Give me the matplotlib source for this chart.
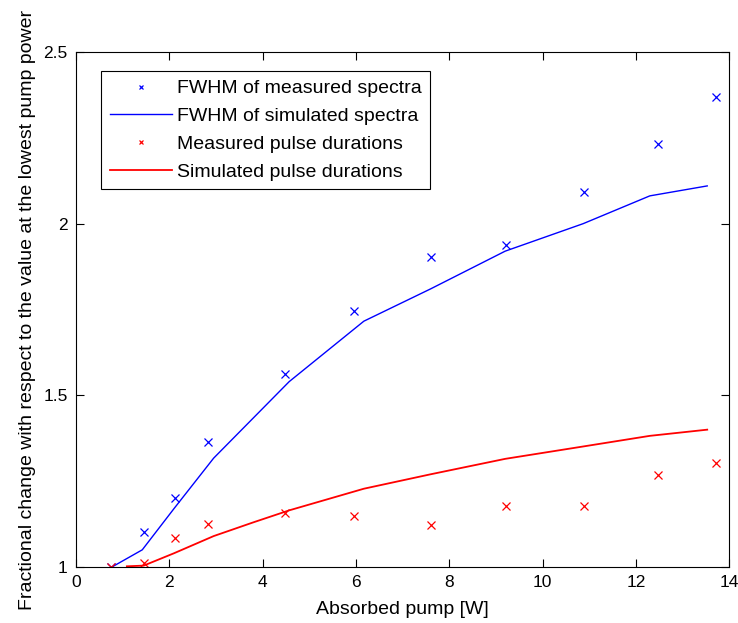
import matplotlib
matplotlib.use("Agg")
import matplotlib.pyplot as plt

plt.rcParams['font.family'] = ['Liberation Sans', 'DejaVu Sans']

# measured data
x_meas = [0.75, 1.45, 2.12, 2.83, 4.47, 5.96, 7.6, 9.22, 10.88, 12.47, 13.72]
fwhm_meas = [1.0, 1.101, 1.2, 1.363, 1.561, 1.745, 1.903, 1.937, 2.091, 2.232, 2.37]
pulse_meas = [1.0, 1.012, 1.083, 1.126, 1.157, 1.149, 1.122, 1.179, 1.179, 1.268, 1.302]

# simulated data
x_sim = [0.77, 1.42, 2.1, 2.95, 3.8, 4.57, 6.17, 7.6, 9.2, 10.87, 12.3, 13.53]
fwhm_sim = [1.0, 1.05, 1.17, 1.317, 1.434, 1.54, 1.716, 1.81, 1.92, 2.0, 2.081, 2.11]
x_sim_p = [1.09, 1.45, 2.1, 2.95, 3.8, 4.57, 6.17, 7.6, 9.2, 10.87, 12.3, 13.53]
pulse_sim = [1.002, 1.004, 1.04, 1.09, 1.13, 1.165, 1.228, 1.27, 1.315, 1.351, 1.382, 1.40]

fig = plt.figure(figsize=(7.38, 6.23), dpi=100)
ax = fig.add_axes([0.103, 0.0899, 0.885, 0.8266])

ax.plot(x_meas, fwhm_meas, 'x', color='#0000ff', ms=6, mew=0.9, label='FWHM of measured spectra')
ax.plot(x_sim, fwhm_sim, '-', color='#0000ff', lw=1.0, label='FWHM of simulated spectra')
ax.plot(x_meas, pulse_meas, 'x', color='#ff0000', ms=6, mew=0.9, label='Measured pulse durations')
ax.plot(x_sim_p, pulse_sim, '-', color='#ff0000', lw=1.3, label='Simulated pulse durations')

ax.set_xlim(0, 14)
ax.set_ylim(1, 2.5)
ax.set_xticks([0, 2, 4, 6, 8, 10, 12, 14])
ax.set_yticks([1, 1.5, 2, 2.5])
ax.set_yticklabels(['1', '1.5', '2', '2.5'])
ax.tick_params(direction='in', top=True, right=True, length=6, width=0.8, labelsize=12.5, pad=6)
for s in ax.spines.values():
    s.set_linewidth(0.8)

ax.set_xlabel('Absorbed pump [W]', fontsize=14, labelpad=8)
ax.set_ylabel('Fractional change with respect to the value at the lowest pump power', fontsize=14, labelpad=5)

leg = ax.legend(loc='upper left', bbox_to_anchor=(0.038, 0.963), fontsize=14, frameon=True,
                fancybox=False, edgecolor='black', framealpha=1, borderpad=0.45,
                handlelength=3.2, handletextpad=0.25, labelspacing=0.52, borderaxespad=0,
                markerscale=0.6)
leg.get_frame().set_linewidth(0.8)

fig.savefig('out.png', dpi=100)
